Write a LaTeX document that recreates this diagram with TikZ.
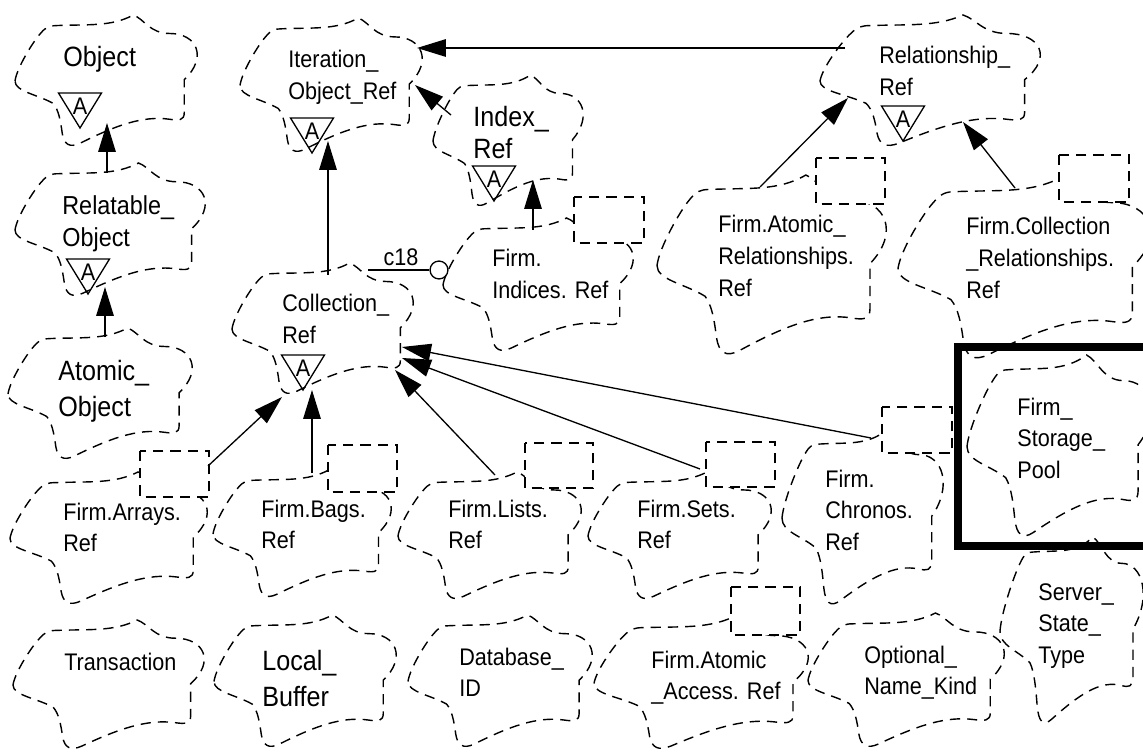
\documentclass[tikz,border=0pt]{standalone}
\usepackage{fontspec}
\setmainfont{Liberation Sans}[FakeStretch=0.9]
\usetikzlibrary{arrows.meta}

% multi-line class names, baseline on the first line
\newcommand\cltext[1]{\begin{tabular}[t]{@{}l@{}}#1\end{tabular}}

\tikzset{
  cloudline/.style={line width=0.8pt, dash pattern=on 5.8pt off 4pt},
  paramrect/.style={line width=0.8pt, dash pattern=on 5.8pt off 4pt, fill=white},
  inherit/.style={line width=0.75pt, -{Triangle[length=16.5pt,width=10pt]}},
  plainline/.style={line width=0.75pt},
  abstri/.style={line width=0.75pt, line join=miter},
  clsname/.style={anchor=base west, inner sep=0pt, font=\fontsize{13.66}{18.2}\selectfont},
  bigname/.style={anchor=base west, inner sep=0pt, font=\fontsize{15.9}{20.5}\selectfont},
  amark/.style={inner sep=0pt, font=\fontsize{13.66}{18.2}\selectfont},
  utilbox/.style={line width=4.6pt},
}

% Booch class cloud: left x, top y, width, height (px units)
\newcommand\classcloud[4]{%
  \begin{scope}[shift={(#1,#2)}, x={(#3*0.02cm,0cm)}, y={(0cm,-#4*0.02cm)}]
    \draw[cloudline] (0,0.5)
      .. controls (0.01,0.4) and (0.1,0.2) .. (0.14,0.14)
      .. controls (0.17,0.09) and (0.19,0.08) .. (0.23,0.08)
      .. controls (0.4,0.07) and (0.53,0.09) .. (0.65,0)
      .. controls (0.71,0.03) and (0.74,0.14) .. (0.85,0.14)
      .. controls (1.0,0.14) and (1.06,0.32) .. (0.93,0.49)
      .. controls (0.93,0.6) and (0.93,0.68) .. (0.93,0.74)
      .. controls (0.93,0.8) and (0.9,0.8) .. (0.85,0.79)
      .. controls (0.7,0.76) and (0.55,0.84) .. (0.36,0.97)
      .. controls (0.3,1.01) and (0.27,0.98) .. (0.26,0.9)
      .. controls (0.25,0.8) and (0.24,0.72) .. (0.21,0.67)
      .. controls (0.12,0.6) and (0,0.58) .. (0,0.5) -- cycle;
  \end{scope}}

% abstract-class adornment: name, centre x, top y
\newcommand\absmark[3]{%
  \draw[abstri] (#2-21.5,#3) -- (#2+21.5,#3) -- (#2,#3+35) -- cycle;
  \node[amark] (#1) at (#2,#3+13) {A};}

\begin{document}
\begin{tikzpicture}[x=0.02cm, y=-0.02cm]
\useasboundingbox (0,0) rectangle (1143,753);
\clip (0,0) rectangle (1143,753);

% ---- clouds ----
\classcloud{15}{15}{182}{132}
\classcloud{15}{163}{190}{134}
\classcloud{8}{328}{184}{132}
\classcloud{240}{18}{182}{135}
\classcloud{433}{75}{150}{132}
\classcloud{820}{15}{220}{132}
\classcloud{232}{263}{181}{132}
\classcloud{443}{218}{190}{134}
\classcloud{657}{175}{229}{181}
\classcloud{898}{177}{252}{183}
\classcloud{967}{355}{184}{183}
\classcloud{10}{472}{197}{133}
\classcloud{213}{470}{178}{128}
\classcloud{398}{472}{183}{128}
\classcloud{588}{472}{183}{128}
\classcloud{782}{430}{161}{176}
\classcloud{13}{620}{191}{130}
\classcloud{214}{615}{182}{133}
\classcloud{408}{615}{184}{133}
\classcloud{594}{617}{214}{133}
\classcloud{808}{613}{196}{135}
\classcloud{1000}{537}{143}{188}

% ---- template parameter boxes ----
\draw[paramrect] (574,197) rectangle (644,243);
\draw[paramrect] (816,158) rectangle (885,204);
\draw[paramrect] (1059,155) rectangle (1129,202);
\draw[paramrect] (140,451) rectangle (209,497);
\draw[paramrect] (328,445) rectangle (397,492);
\draw[paramrect] (525,443) rectangle (593,488);
\draw[paramrect] (706,442) rectangle (775,487);
\draw[paramrect] (882,407) rectangle (952,453);
\draw[paramrect] (731,587) rectangle (800,635);

% ---- utility box ----
\draw[utilbox] (958,347) rectangle (1175,546);

% ---- class names ----
\node[bigname] (object) at (63,67) {Object};
\node[clsname, font=\fontsize{14.8}{18.2}\selectfont] (relobj) at (62,215) {\cltext{Relatable\_\\Object}};
\node[bigname] (atomic) at (58,380) {\cltext{Atomic\_\\Object}};
\node[clsname] (iter) at (288,68) {\cltext{Iteration\_\\Object\_Ref}};
\node[bigname, font=\fontsize{15.9}{18.2}\selectfont] (index) at (473,127) {\cltext{Index\_\\Ref}};
\node[clsname] (relref) at (879,64) {\cltext{Relationship\_\\Ref}};
\node[clsname] (coll) at (282,312) {\cltext{Collection\_\\Ref}};
\node[clsname] (findices) at (492,267) {\cltext{Firm.\\Indices. Ref}};
\node[clsname] (fatomrel) at (718,233) {\cltext{Firm.Atomic\_\\Relationships.\\Ref}};
\node[clsname] (fcollrel) at (966,235) {\cltext{Firm.Collection\\\_Relationships.\\Ref}};
\node[clsname] (fstorage) at (1017,415) {\cltext{Firm\_\\Storage\_\\Pool}};
\node[clsname] (farrays) at (63,520) {\cltext{Firm.Arrays.\\Ref}};
\node[clsname] (fbags) at (261,517) {\cltext{Firm.Bags.\\Ref}};
\node[clsname] (flists) at (448,517) {\cltext{Firm.Lists.\\Ref}};
\node[clsname] (fsets) at (637,517) {\cltext{Firm.Sets.\\Ref}};
\node[clsname] (fchronos) at (825,487) {\cltext{Firm.\\Chronos.\\Ref}};
\node[clsname] (server) at (1038,600) {\cltext{Server\_\\State\_\\Type}};
\node[clsname] (trans) at (64,670) {Transaction};
\node[bigname] (local) at (262,670) {\cltext{Local\_\\Buffer}};
\node[clsname] (dbid) at (459,665) {\cltext{Database\_\\ID}};
\node[clsname] (fatomacc) at (651,668) {\cltext{Firm.Atomic\\\_Access. Ref}};
\node[clsname] (optional) at (864,663) {\cltext{Optional\_\\Name\_Kind}};

% ---- abstract adornments ----
\absmark{object-A}{80}{93}
\absmark{relobj-A}{88}{259}
\absmark{iter-A}{312}{118}
\absmark{index-A}{494}{166}
\absmark{relref-A}{903}{106}
\absmark{coll-A}{303}{355}

% ---- connector end points ----
\coordinate (object-s) at (107,123);
\coordinate (relobj-n) at (107,173);
\coordinate (relobj-s) at (105,287);
\coordinate (atomic-n) at (105,337);
\coordinate (iter-s) at (328,141);
\coordinate (coll-n) at (328,275);
\coordinate (iter-e) at (415,85);
\coordinate (iter-ne) at (417,48);
\coordinate (index-nw) at (451,115);
\coordinate (index-s) at (533,180);
\coordinate (findices-n) at (533,230);
\coordinate (relref-w) at (845,48);
\coordinate (relref-sw) at (848,98);
\coordinate (relref-s) at (963,122);
\coordinate (fatomrel-n) at (760,187);
\coordinate (fcollrel-n) at (1015,188);
\coordinate (coll-sw) at (282,397);
\coordinate (coll-s) at (312,390);
\coordinate (coll-se) at (395,370);
\coordinate (coll-e2) at (402,358);
\coordinate (coll-e1) at (402,347);
\coordinate (farrays-ne) at (208,466);
\coordinate (fbags-n) at (312,473);
\coordinate (flists-n) at (495,475);
\coordinate (fsets-n) at (700,469);
\coordinate (fchronos-n) at (871,438);
\coordinate (coll-c18) at (368,270);

% ---- inheritance ----
\draw[inherit] (relobj-n) -- (object-s);
\draw[inherit] (atomic-n) -- (relobj-s);
\draw[inherit] (coll-n) -- (iter-s);
\draw[inherit] (index-nw) -- (iter-e);
\draw[inherit] (relref-w) -- (iter-ne);
\draw[inherit] (findices-n) -- (index-s);
\draw[inherit] (fatomrel-n) -- (relref-sw);
\draw[inherit] (fcollrel-n) -- (relref-s);
\draw[inherit] (farrays-ne) -- (coll-sw);
\draw[inherit] (fbags-n) -- (coll-s);
\draw[inherit] (flists-n) -- (coll-se);
\draw[inherit] (fsets-n) -- (coll-e2);
\draw[inherit] (fchronos-n) -- (coll-e1);

% ---- has relationship c18 ----
\node[circle, draw, line width=0.75pt, minimum size=10.2pt, inner sep=0pt] (c18end) at (439,270) {};
\draw[plainline] (coll-c18) -- (c18end);
\node[clsname, anchor=base] (c18lbl) at (401,266) {c18};

\end{tikzpicture}
\end{document}
